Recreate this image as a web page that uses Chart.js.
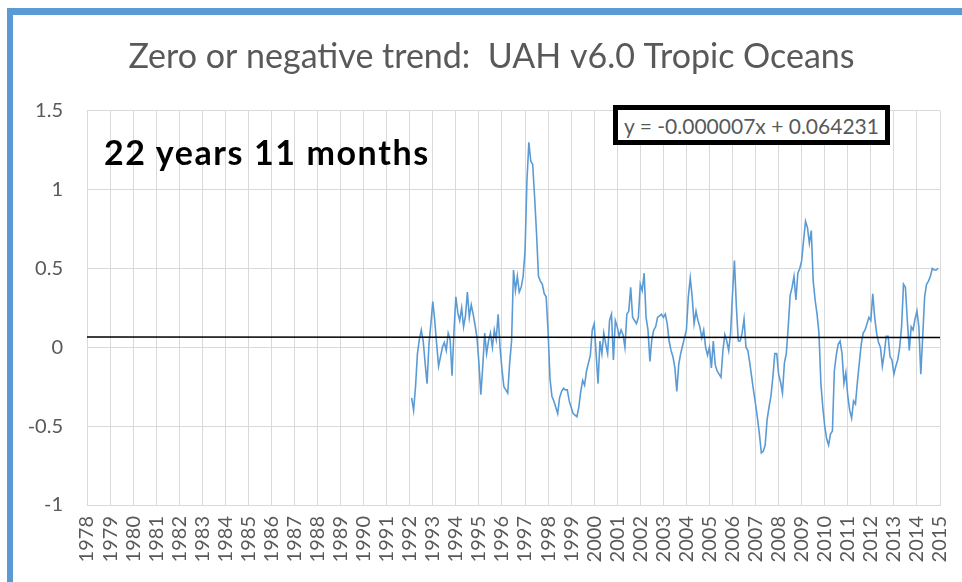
<!DOCTYPE html>
<html>
<head>
<meta charset="utf-8">
<script src="https://cdn.jsdelivr.net/npm/chart.js@4.4.1/dist/chart.umd.min.js"></script>
<style>
html,body{margin:0;padding:0;background:#fff;}
#wrap{position:relative;width:962px;height:582px;overflow:hidden;background:#fff;}
#frameTop{position:absolute;left:7px;top:8px;width:955px;height:7px;background:#5b9bd5;}
#frameLeft{position:absolute;left:7px;top:8px;width:6px;height:574px;background:#5b9bd5;}
#chart{position:absolute;left:0;top:0;}
#note{position:absolute;left:104px;top:135px;font-family:Lato,sans-serif;font-weight:bold;font-size:34px;letter-spacing:1.6px;line-height:1;color:#000;white-space:nowrap;}
#eq{position:absolute;left:613px;top:105px;width:277px;height:40px;box-sizing:border-box;border:5px solid #000;background:#fff;font-family:Lato,sans-serif;font-size:21px;color:#595959;display:flex;align-items:center;justify-content:center;white-space:nowrap;}
</style>
</head>
<body>
<div id="wrap">
  <canvas id="chart" width="962" height="582"></canvas>
  <div id="frameTop"></div>
  <div id="frameLeft"></div>
  <div id="note">22 years 11 months</div>
  <div id="eq">y = -0.000007x + 0.064231</div>
</div>
<script>
// ---- Data (UAH v6.0 Tropic Oceans monthly anomalies, Jan 1993 - Nov 2015) ----
const chartTitle = 'Zero or negative trend:  UAH v6.0 Tropic Oceans';
const yearLabels = ['1978','1979','1980','1981','1982','1983','1984','1985','1986','1987','1988','1989','1990','1991','1992','1993','1994','1995','1996','1997','1998','1999','2000','2001','2002','2003','2004','2005','2006','2007','2008','2009','2010','2011','2012','2013','2014','2015'];
const yTickLabels = {'-1':'-1','-0.5':'-0.5','0':'0','0.5':'0.5','1':'1','1.5':'1.5'};
const firstDataMonth = 169; // month slot of Jan 1993 on the axis (slot 0 = first "1978" tick)
const anomalies = [
  -0.32,-0.40,-0.25,-0.04,0.05,0.11,0.04,-0.10,-0.23,0.02,0.15,0.29,
  0.17,0.02,-0.12,-0.06,0.00,0.03,-0.02,0.09,0.05,-0.18,0.10,0.32,
  0.22,0.17,0.25,0.13,0.20,0.35,0.19,0.27,0.21,0.14,0.06,-0.10,
  -0.30,-0.12,0.09,-0.04,0.04,0.09,0.00,0.11,0.05,0.21,0.00,-0.14,
  -0.25,-0.27,-0.29,-0.10,0.04,0.49,0.36,0.45,0.35,0.38,0.45,0.61,
  1.06,1.30,1.18,1.16,0.95,0.72,0.45,0.42,0.40,0.34,0.32,0.10,
  -0.20,-0.31,-0.34,-0.38,-0.42,-0.32,-0.28,-0.26,-0.27,-0.27,-0.34,-0.38,
  -0.42,-0.43,-0.44,-0.38,-0.28,-0.21,-0.24,-0.15,-0.10,-0.05,0.11,0.15,
  -0.04,-0.23,0.04,-0.04,0.09,0.02,-0.04,0.17,0.21,-0.08,0.17,0.13,
  0.07,0.11,0.08,0.00,0.21,0.23,0.38,0.19,0.17,0.15,0.19,0.40,
  0.36,0.47,0.19,0.11,-0.09,0.05,0.11,0.13,0.19,0.20,0.21,0.19,
  0.21,0.15,0.04,-0.02,-0.06,-0.13,-0.28,-0.11,-0.04,0.01,0.06,0.11,
  0.32,0.44,0.32,0.15,0.23,0.17,0.13,0.06,0.11,0.00,-0.05,0.00,
  -0.13,0.04,-0.11,-0.15,-0.17,-0.19,-0.02,0.08,0.04,-0.02,0.09,0.34,
  0.55,0.26,0.04,0.04,0.09,0.18,0.00,-0.02,-0.10,-0.19,-0.28,-0.36,
  -0.45,-0.55,-0.67,-0.66,-0.62,-0.46,-0.38,-0.31,-0.19,-0.04,-0.04,-0.17,
  -0.22,-0.29,-0.10,-0.04,0.13,0.33,0.38,0.45,0.30,0.47,0.50,0.55,
  0.68,0.80,0.76,0.66,0.74,0.42,0.30,0.21,0.09,-0.23,-0.38,-0.50,
  -0.58,-0.62,-0.55,-0.53,-0.15,-0.05,0.02,0.04,-0.04,-0.23,-0.16,-0.31,
  -0.40,-0.45,-0.34,-0.36,-0.22,-0.10,0.02,0.09,0.11,0.15,0.19,0.17,
  0.34,0.19,0.09,0.03,0.00,-0.12,-0.04,0.07,0.07,-0.06,-0.08,-0.17,
  -0.12,-0.08,0.00,0.13,0.40,0.38,0.17,-0.02,0.13,0.11,0.18,0.23,
  0.13,-0.17,0.07,0.32,0.40,0.42,0.45,0.50,0.49,0.49,0.50
];
const trendSlope = -0.000007;
const trendIntercept = 0.064231;

// ---- Build chart data ----
const lastSlot = (yearLabels.length - 1) * 12;
const seriesPoints = anomalies.map((v, i) => ({x: firstDataMonth + i, y: v}));
const trendPoints = [0, lastSlot].map(s => ({x: s, y: trendSlope * (s - firstDataMonth + 1) + trendIntercept}));

new Chart(document.getElementById('chart'), {
  type: 'line',
  data: {
    datasets: [
      {label: 'Trend', data: trendPoints, borderColor: '#000000', borderWidth: 1.6, pointRadius: 0, fill: false, order: 0},
      {label: 'UAH v6.0 Tropic Oceans', data: seriesPoints, borderColor: '#5b9bd5', borderWidth: 1.6, pointRadius: 0, tension: 0, fill: false, order: 1}
    ]
  },
  options: {
    responsive: false,
    animation: false,
    devicePixelRatio: 1,
    layout: {padding: {left: 21, right: 0, top: 0, bottom: 0}},
    plugins: {
      legend: {display: false},
      tooltip: {enabled: false},
      title: {
        display: true, text: chartTitle, color: '#595959',
        font: {family: 'Lato', size: 34, weight: 'normal'},
        padding: {top: 37, bottom: 33}
      }
    },
    scales: {
      x: {
        type: 'linear', min: 0, max: lastSlot,
        grid: {color: '#d9d9d9', drawTicks: false},
        border: {color: '#d9d9d9'},
        ticks: {
          stepSize: 12, autoSkip: false, minRotation: 90, maxRotation: 90, padding: 11,
          color: '#595959', font: {family: 'Lato', size: 20},
          callback: v => yearLabels[Math.round(v / 12)]
        },
        afterFit: s => { s.height = 77; s.paddingRight = 22; }
      },
      y: {
        min: -1, max: 1.5,
        grid: {color: '#d9d9d9', drawTicks: false},
        border: {color: '#d9d9d9'},
        ticks: {
          stepSize: 0.5, padding: 24, color: '#595959', font: {family: 'Lato', size: 20},
          callback: v => yTickLabels[String(v)]
        },
        afterFit: s => { s.width = 66; }
      }
    }
  }
});
</script>
</body>
</html>
